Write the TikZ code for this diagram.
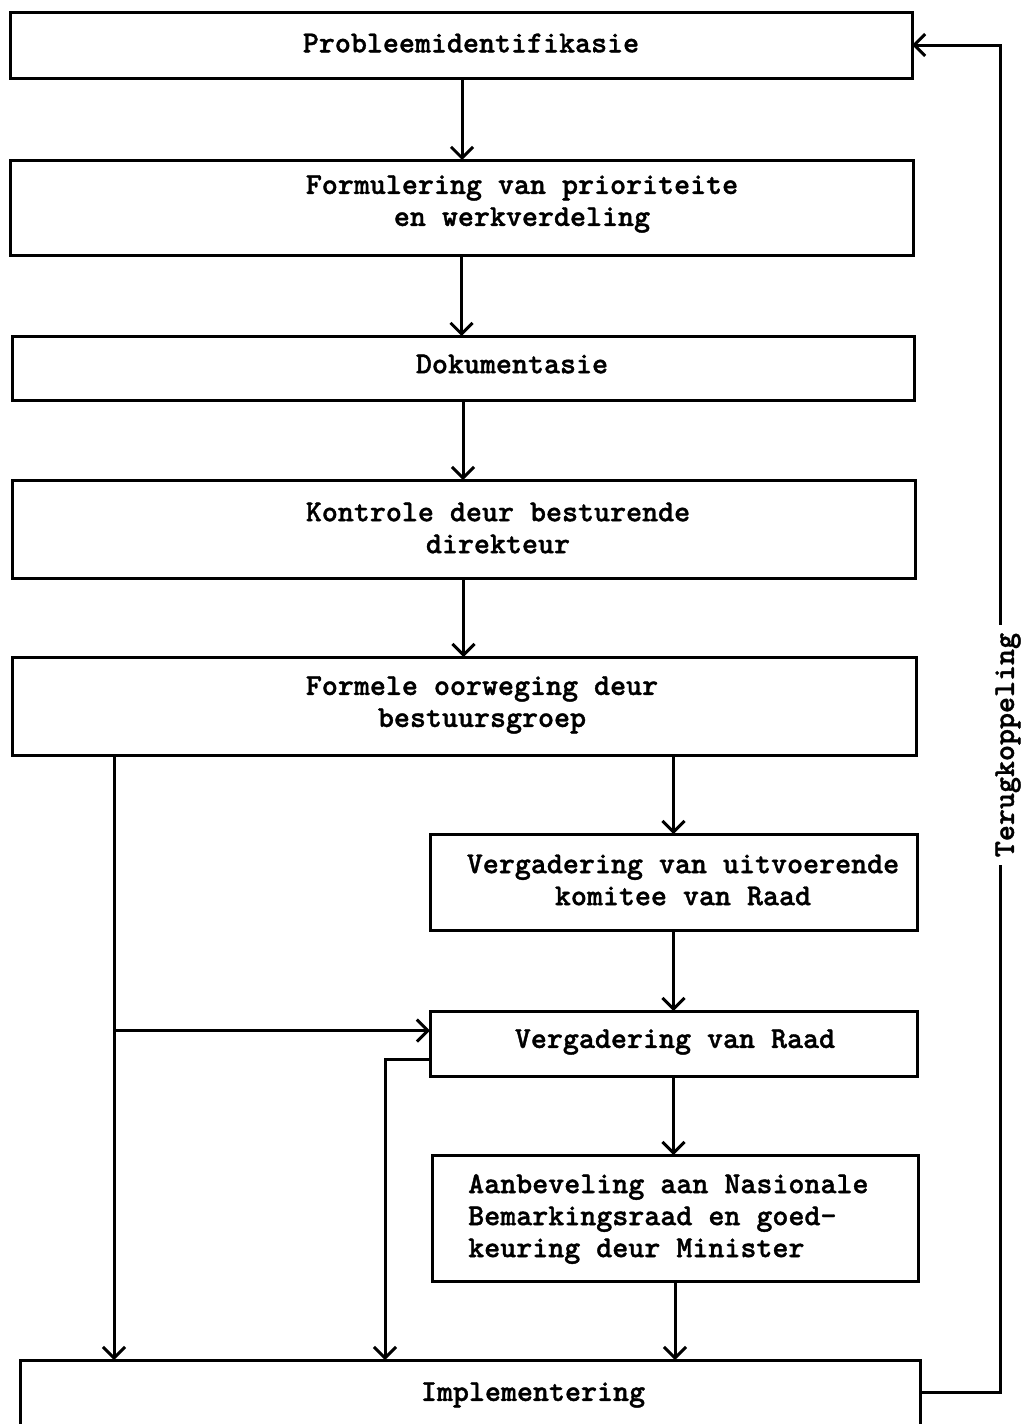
\documentclass[tikz,border=0pt]{standalone}
\usepackage{fontspec}
\newfontfamily\tw{lmmonolt10-bold.otf}[FakeBold=1.2]
\usetikzlibrary{arrows.meta}
\begin{document}
\begin{tikzpicture}[x=1pt,y=-1pt,
  box/.style={draw, line width=3pt, inner sep=0pt, outer sep=0pt},
  txt/.style={font=\fontsize{30.5}{32}\selectfont\tw, inner sep=0pt, align=center},
  arr/.style={line width=3pt, -{Straight Barb[length=11pt,width=22pt,line width=3pt]}},
  ln/.style={line width=3pt}]
\useasboundingbox (0,0) rectangle (1023,1424);
\clip (0,0) rectangle (1023,1424);
% boxes
\node[box, minimum width=902pt, minimum height=66pt] (p1) at (461,45) {};
\node[box, minimum width=903pt, minimum height=95pt] (p2) at (461.5,207.5) {};
\node[box, minimum width=902pt, minimum height=64pt] (p3) at (463,368) {};
\node[box, minimum width=903pt, minimum height=98pt] (p4) at (463.5,529) {};
\node[box, minimum width=904pt, minimum height=98pt] (p5) at (464,706) {};
\node[box, minimum width=487pt, minimum height=96pt] (p6) at (673.5,882) {};
\node[box, minimum width=487pt, minimum height=65pt] (p7) at (673.5,1043.5) {};
\node[box, minimum width=486pt, minimum height=126pt] (p8) at (675,1218) {};
\node[box, minimum width=900pt, minimum height=90pt] (p9) at (470,1405) {};
% texts
\node[txt] (t1) at (471,43) {Probleemidentifikasie};
\node[txt] (t2) at (522,204) {Formulering van prioriteite\\en werkverdeling};
\node[txt] (t3) at (512,364) {Dokumentasie};
\node[txt] (t4) at (498,528) {Kontrole deur besturende\\direkteur};
\node[txt] (t5) at (482,705) {Formele oorweging deur\\bestuursgroep};
\node[txt] (t6) at (683,880) {Vergadering van uitvoerende\\komitee van Raad};
\node[txt] (t7) at (675,1042) {Vergadering van Raad};
\node[txt, align=left, anchor=west] (t8) at (468,1219) {Aanbeveling aan Nasionale\\Bemarkingsraad en goed-\\keuring deur Minister};
\node[txt] (t9) at (533,1395) {Implementering};
% main chain
\draw[arr] (462,78) coordinate (a1) -- (a1 |- p2.north);
\draw[arr] (p2.south) -- (p2.south |- p3.north);
\draw[arr] (p3.south) -- (p3.south |- p4.north);
\draw[arr] (p4.south) -- (p4.south |- p5.north);
\draw[arr] (p6.north |- p5.south) -- (p6.north);
\draw[arr] (p6.south) -- (p6.south |- p7.north);
\draw[arr] (p7.south) -- (p7.south |- p8.north);
\draw[arr] (p8.south) -- (p8.south |- p9.north);
% left bypass
\coordinate (xl) at (114,0);
\draw[arr] (p5.south -| xl) -- (p9.north -| xl);
\coordinate (br) at ([yshift=13pt]p7.west);
\draw[arr] (br -| xl) -- (br);
\coordinate (ot) at ([yshift=-16pt]p7.west);
\coordinate (xm) at (385,0);
\draw[arr] (ot) -- (ot -| xm) -- (p9.north -| xm);
% feedback
\coordinate (fb) at ([yshift=13pt]p9.east);
\coordinate (xr) at (1000,0);
\draw[arr] (fb) -- (fb -| xr) -- (xr |- p1.east) -- (p1.east);
\node[txt, rotate=90, fill=white, inner sep=8pt] (tf) at (1008,745) {Terugkoppeling};
\end{tikzpicture}
\end{document}
